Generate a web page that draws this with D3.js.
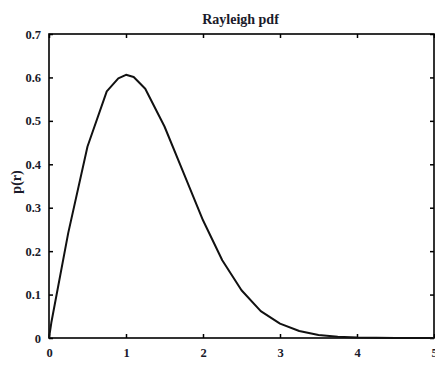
<!DOCTYPE html>
<html>
<head>
<meta charset="utf-8">
<script src="https://cdn.jsdelivr.net/npm/d3@7"></script>
<style>
  body { margin: 0; background: #fff; }
  text { font-family: "Liberation Serif", "DejaVu Serif", serif; font-weight: bold; fill: #1a1a2a; }
</style>
</head>
<body>
<div id="chart"></div>
<script>
// values
var rValues = [0, 0.03, 0.25, 0.5, 0.75, 0.9, 1.0, 1.1, 1.25, 1.5, 1.75, 2.0, 2.25, 2.5, 2.75, 3.0, 3.25, 3.5, 3.75, 4.0, 4.5, 5.0];
var pValues = [0, 0.035, 0.242, 0.441, 0.568, 0.598, 0.606, 0.601, 0.574, 0.487, 0.379, 0.271, 0.179, 0.110, 0.062, 0.033, 0.016, 0.007, 0.003, 0.001, 0.0, 0.0];
var xTicks = [0, 1, 2, 3, 4, 5];
var yTicks = [0, 0.1, 0.2, 0.3, 0.4, 0.5, 0.6, 0.7];

var W = 435, H = 372;
var margin = { top: 34, right: 1, bottom: 34, left: 49 };
var width = W - margin.left - margin.right,
    height = H - margin.top - margin.bottom;

var svg = d3.select("#chart")
  .append("svg")
  .attr("width", W)
  .attr("height", H)
  .append("g")
  .attr("transform", "translate(" + margin.left + "," + margin.top + ")");

var x = d3.scaleLinear().domain([0, 5]).range([0, width]);
var y = d3.scaleLinear().domain([0, 0.7]).range([height, 0]);

// ticks pointing inward, all four sides
svg.append("g")
  .attr("transform", "translate(0," + height + ")")
  .call(d3.axisBottom(x).tickValues(xTicks).tickSize(-4).tickPadding(10).tickFormat(d3.format("d")))
  .call(g => g.select(".domain").remove());

svg.append("g")
  .call(d3.axisTop(x).tickValues(xTicks).tickSize(-4).tickFormat(""))
  .call(g => g.select(".domain").remove());

svg.append("g")
  .call(d3.axisLeft(y).tickValues(yTicks).tickSize(-4).tickPadding(8).tickFormat(d => d === 0 ? "0" : d3.format(".1f")(d)))
  .call(g => g.select(".domain").remove());

svg.append("g")
  .attr("transform", "translate(" + width + ",0)")
  .call(d3.axisRight(y).tickValues(yTicks).tickSize(-4).tickFormat(""))
  .call(g => g.select(".domain").remove());

svg.selectAll(".tick line").attr("stroke", "#000").attr("stroke-width", 1.5);
svg.selectAll(".tick text").style("font-size", "12.5px");

// frame
svg.append("rect")
  .attr("width", width)
  .attr("height", height)
  .attr("fill", "none")
  .attr("stroke", "#000")
  .attr("stroke-width", 1.6);

// curve
var line = d3.line()
  .x(function(d, i) { return x(rValues[i]); })
  .y(function(d) { return y(d); });

svg.append("path")
  .datum(pValues)
  .attr("d", line)
  .attr("fill", "none")
  .attr("stroke", "#111")
  .attr("stroke-width", 2)
  .attr("stroke-linejoin", "round");

// title and labels
svg.append("text")
  .attr("x", width / 2 - 1)
  .attr("y", -10)
  .attr("text-anchor", "middle")
  .style("font-size", "14px")
  .text("Rayleigh pdf");

svg.append("text")
  .attr("x", width / 2)
  .attr("y", height + 42)
  .attr("text-anchor", "middle")
  .style("font-size", "13px")
  .text("r");

svg.append("text")
  .attr("transform", "translate(-28," + (height / 2 - 4) + ") rotate(-90)")
  .attr("text-anchor", "middle")
  .style("font-size", "14px")
  .text("p(r)");
</script>
</body>
</html>
